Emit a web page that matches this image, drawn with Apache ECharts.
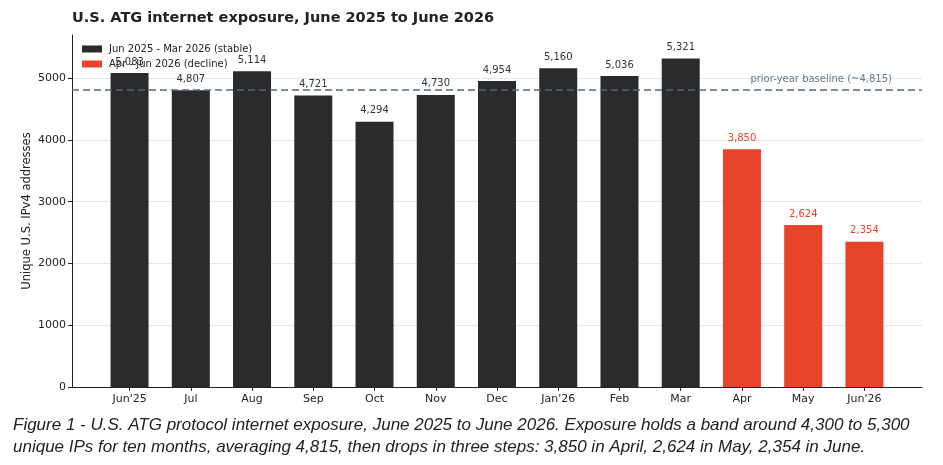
<!DOCTYPE html>
<html>
<head>
<meta charset="utf-8">
<script src="https://cdn.jsdelivr.net/npm/echarts@6/dist/echarts.min.js"></script>
<style>
  html, body { margin: 0; padding: 0; background: #fff; }
  #chart { width: 943px; height: 465px; }
</style>
</head>
<body>
<div id="chart"></div>
<script>
// monthly counts
const months = ["Jun'25", 'Jul', 'Aug', 'Sep', 'Oct', 'Nov', 'Dec', "Jan'26", 'Feb', 'Mar', 'Apr', 'May', "Jun'26"];
const stableValues = [5083, 4807, 5114, 4721, 4294, 4730, 4954, 5160, 5036, 5321];
const declineValues = [3850, 2624, 2354];
const baseline = 4815;
const yTicks = [0, 1000, 2000, 3000, 4000, 5000];

const DARK = '#2b2b2b';
const RED = '#e8442b';
const FONT = '"DejaVu Sans", sans-serif';

document.addEventListener('DOMContentLoaded', function(){
  var chart = echarts.init(document.getElementById('chart'));

  // bars sit on integer positions 0..12
  const stableData = stableValues.map((v, i) => [i, v]);
  const declineData = declineValues.map((v, i) => [stableValues.length + i, v]);
  const fmt = v => v[1].toLocaleString('en-US');

  chart.setOption({
    animation: false,
    backgroundColor: '#fff',
    title: {
      text: 'U.S. ATG internet exposure, June 2025 to June 2026',
      left: 67,
      top: 6,
      textStyle: { color: '#222', fontSize: 14.5, fontWeight: 'bold', fontFamily: FONT }
    },
    legend: {
      orient: 'vertical',
      left: 77,
      top: 38,
      itemWidth: 20,
      itemHeight: 7,
      itemGap: 3,
      icon: 'rect',
      textStyle: { color: '#222', fontSize: 10, lineHeight: 12, fontFamily: FONT, padding: [0, 0, 0, 2] },
      data: ['Jun 2025 - Mar 2026 (stable)', 'Apr - Jun 2026 (decline)']
    },
    grid: { left: 72, right: 21, top: 35, bottom: 78 },
    xAxis: {
      type: 'value',
      min: -0.94,
      max: 12.94,
      axisLine: { show: true, onZero: false, lineStyle: { color: '#222', width: 1 } },
      axisTick: { show: true, length: 4, lineStyle: { color: '#222' }, customValues: months.map((m, i) => i) },
      axisLabel: {
        color: '#222', fontSize: 11, fontFamily: FONT, margin: 7,
        customValues: months.map((m, i) => i),
        formatter: v => months[Math.round(v)] || ''
      },
      splitLine: { show: false }
    },
    yAxis: {
      type: 'value',
      min: 0,
      max: 5700,
      interval: 1000,
      axisLine: { show: true, onZero: false, lineStyle: { color: '#222', width: 1 } },
      axisTick: { show: true, length: 4, lineStyle: { color: '#222' } },
      axisLabel: {
        color: '#222', fontSize: 11, fontFamily: FONT, margin: 6,
        showMaxLabel: false,
        formatter: v => yTicks.indexOf(v) >= 0 ? String(v) : ''
      },
      splitLine: { show: true, showMaxLine: false, lineStyle: { color: '#e6e6e6', width: 1 } }
    },
    series: [
      {
        name: 'Jun 2025 - Mar 2026 (stable)',
        type: 'bar',
        barWidth: 38,
        barGap: '-100%',
        itemStyle: { color: DARK },
        label: {
          show: true, position: 'top', distance: 6,
          color: '#333', fontSize: 10, fontFamily: FONT,
          formatter: p => fmt(p.value)
        },
        data: stableData,
        markLine: {
          silent: true,
          symbol: 'none',
          lineStyle: { type: [7, 4], color: '#56677e', width: 1.5 },
          label: {
            show: true,
            position: 'insideEndTop',
            formatter: 'prior-year baseline (~4,815)',
            color: '#66768d', fontSize: 10, fontFamily: FONT,
            distance: [30, 5]
          },
          data: [{ yAxis: baseline }]
        },
        z: 2
      },
      {
        name: 'Apr - Jun 2026 (decline)',
        type: 'bar',
        barWidth: 38,
        barGap: '-100%',
        itemStyle: { color: RED },
        label: {
          show: true, position: 'top', distance: 6,
          color: RED, fontSize: 10, fontFamily: FONT,
          formatter: p => fmt(p.value)
        },
        data: declineData,
        z: 2
      }
    ],
    graphic: [
      {
        // y axis title
        type: 'text',
        x: 27,
        y: 211,
        rotation: Math.PI / 2,
        style: {
          text: 'Unique U.S. IPv4 addresses',
          fill: '#222',
          font: '11.5px "DejaVu Sans", sans-serif',
          textAlign: 'center',
          textVerticalAlign: 'middle'
        }
      },
      {
        type: 'text',
        left: 13,
        top: 414,
        style: {
          text: 'Figure 1 - U.S. ATG protocol internet exposure, June 2025 to June 2026. Exposure holds a band around 4,300 to 5,300\nunique IPs for ten months, averaging 4,815, then drops in three steps: 3,850 in April, 2,624 in May, 2,354 in June.',
          fill: '#222',
          font: 'italic 17px "Liberation Sans", sans-serif',
          lineHeight: 22
        }
      }
    ]
  });

  window.addEventListener('resize', function(){ chart.resize(); });
});
</script>
</body>
</html>
